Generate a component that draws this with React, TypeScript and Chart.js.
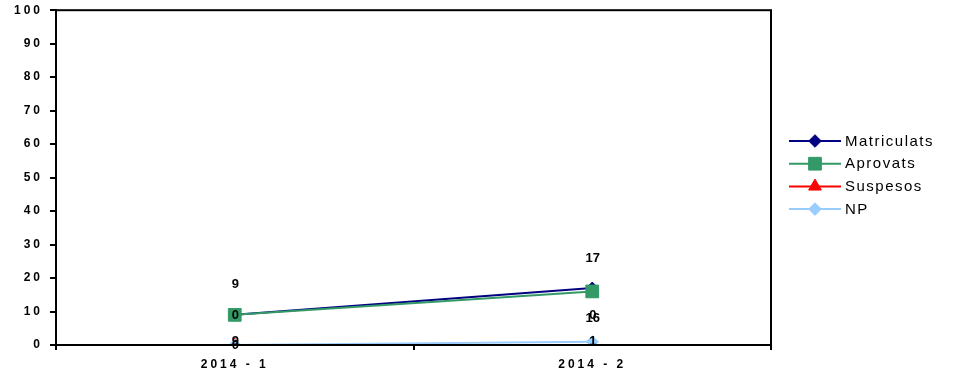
import React, { useEffect, useRef } from "react";
import { Chart, registerables } from "chart.js";

Chart.register(...registerables);

const categories = ["2014 - 1", "2014 - 2"];
const matriculats = [9, 17];
const aprovats = [9, 16];
const suspesos = [0, 0];
const np = [0, 1];
const seriesNames = ["Matriculats", "Aprovats", "Suspesos", "NP"];
const seriesColors = ["#000080", "#339966", "#FF0000", "#99CCFF"];
const seriesMarkers = ["rectRot", "rect", "triangle", "rectRot"];
const markerRadius = [6, 9, 7, 6];
const labelOffsets = [-30, 27, -30, 0];
const yTicks = [0, 10, 20, 30, 40, 50, 60, 70, 80, 90, 100];

const FONT = '"Liberation Sans", Arial, sans-serif';
const SHIFT = 4;

const spacingPlugin = {
  id: "spacing",
  beforeDraw(chart: any) {
    (chart.ctx as any).letterSpacing = "3px";
  },
};

const framePlugin = {
  id: "frame",
  afterDraw(chart: any) {
    const { ctx, chartArea } = chart;
    ctx.save();
    ctx.strokeStyle = "#000";
    ctx.lineWidth = 2;
    ctx.strokeRect(chartArea.left, chartArea.top, chartArea.right - chartArea.left, chartArea.bottom - chartArea.top);
    ctx.restore();
  },
};

const labelsPlugin = {
  id: "valueLabels",
  afterDatasetsDraw(chart: any) {
    const ctx = chart.ctx;
    ctx.save();
    (ctx as any).letterSpacing = "0px";
    ctx.font = `bold 13px ${FONT}`;
    ctx.fillStyle = "#000";
    ctx.textAlign = "center";
    ctx.textBaseline = "middle";
    chart.data.datasets.forEach((ds: any, i: number) => {
      const meta = chart.getDatasetMeta(i);
      meta.data.forEach((pt: any, j: number) => {
        ctx.fillText(String(ds.data[j]), pt.x + 0.5, pt.y + labelOffsets[i]);
      });
    });
    ctx.restore();
  },
};

function drawMarker(ctx: CanvasRenderingContext2D, style: string, x: number, y: number, r: number) {
  ctx.beginPath();
  if (style === "rectRot") {
    ctx.moveTo(x - r, y);
    ctx.lineTo(x, y - r);
    ctx.lineTo(x + r, y);
    ctx.lineTo(x, y + r);
  } else if (style === "rect") {
    const s = Math.SQRT1_2 * r;
    ctx.rect(x - s, y - s, 2 * s, 2 * s);
  } else {
    const a = r * Math.sin(Math.PI / 3);
    ctx.moveTo(x, y - r);
    ctx.lineTo(x + a, y + r / 2);
    ctx.lineTo(x - a, y + r / 2);
  }
  ctx.closePath();
  ctx.fill();
  ctx.stroke();
}

const legendPlugin = {
  id: "customLegend",
  afterDraw(chart: any) {
    const ctx = chart.ctx;
    ctx.save();
    const x0 = 789;
    const x1 = 841;
    const y0 = 141 + SHIFT;
    const dy = 22.7;
    seriesNames.forEach((name, i) => {
      const y = y0 + i * dy;
      ctx.strokeStyle = seriesColors[i];
      ctx.lineWidth = 2;
      ctx.beginPath();
      ctx.moveTo(x0, y);
      ctx.lineTo(x1, y);
      ctx.stroke();
      ctx.fillStyle = seriesColors[i];
      ctx.lineWidth = 1;
      drawMarker(ctx, seriesMarkers[i], (x0 + x1) / 2, y, markerRadius[i] * (i === 1 ? 1 : 1.05));
      ctx.fillStyle = "#000";
      ctx.font = `15px ${FONT}`;
      (ctx as any).letterSpacing = "1.5px";
      ctx.textAlign = "left";
      ctx.textBaseline = "middle";
      ctx.fillText(name, 845, y + 0.5);
    });
    ctx.restore();
  },
};

export default function App() {
  const ref = useRef<HTMLCanvasElement>(null);
  useEffect(() => {
    document.body.style.margin = "0";
    const values = [matriculats, aprovats, suspesos, np];
    const chart = new Chart(ref.current!, {
      type: "line",
      data: {
        labels: categories,
        datasets: seriesNames.map((name, i) => ({
          label: name,
          data: values[i],
          borderColor: seriesColors[i],
          backgroundColor: seriesColors[i],
          borderWidth: 2,
          pointStyle: seriesMarkers[i] as any,
          pointRadius: markerRadius[i],
          pointBorderWidth: 1,
          pointHoverRadius: markerRadius[i],
          order: 3 - i,
          tension: 0,
        })),
      },
      options: {
        animation: false,
        responsive: false,
        devicePixelRatio: 1,
        layout: { padding: { top: 4, right: 188, left: 0, bottom: 0 } },
        plugins: { legend: { display: false }, tooltip: { enabled: false } },
        scales: {
          x: {
            offset: true,
            grid: { offset: true, drawOnChartArea: false, drawTicks: true, tickLength: 5, color: "#000", lineWidth: 2 },
            border: { display: true, color: "#000", width: 2 },
            ticks: { color: "#000", font: { family: FONT, size: 12, weight: "bold" }, padding: 7, maxRotation: 0 },
            afterFit: (s: any) => { s.height = 37; },
          },
          y: {
            min: 0,
            max: 100,
            afterBuildTicks: (s: any) => { s.ticks = yTicks.map((v) => ({ value: v })); },
            grid: { drawOnChartArea: false, drawTicks: true, tickLength: 6, color: "#000", lineWidth: 2 },
            border: { display: true, color: "#000", width: 2 },
            ticks: { color: "#000", font: { family: FONT, size: 12, weight: "bold" }, padding: 7 },
            afterFit: (s: any) => { s.width = 56; },
          },
        },
      },
      plugins: [spacingPlugin, framePlugin, labelsPlugin, legendPlugin],
    });
    return () => chart.destroy();
  }, []);
  return (
    <div style={{ position: "absolute", left: 0, top: -SHIFT, width: 959, height: 382 + SHIFT, background: "#fff", overflow: "hidden" }}>
      <canvas ref={ref} width={959} height={382 + SHIFT} style={{ display: "block" }} />
    </div>
  );
}
